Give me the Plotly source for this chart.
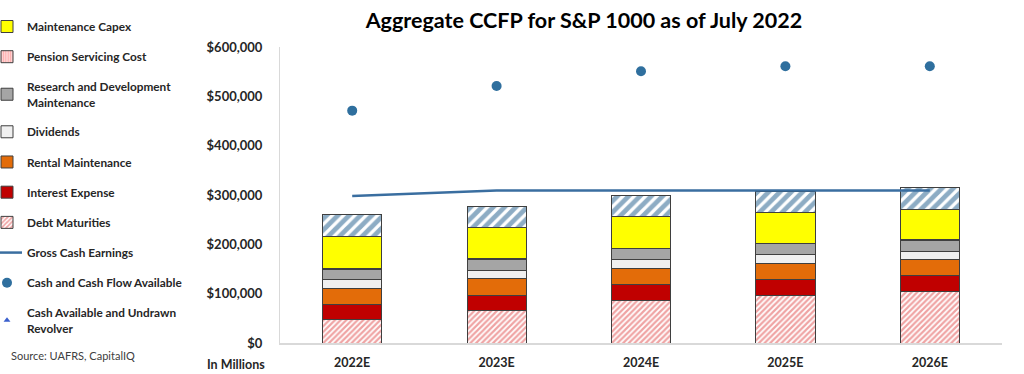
import plotly.graph_objects as go

years = ["2022E", "2023E", "2024E", "2025E", "2026E"]
debt_maturities = [47000, 65000, 87000, 97000, 104000]
interest_expense = [31000, 32000, 32000, 31000, 33000]
rental_maintenance = [33000, 33000, 32000, 33000, 32000]
dividends = [18000, 17000, 18000, 19000, 17000]
rnd_maintenance = [21000, 22000, 22000, 21000, 22000]
pension_cost = [1500, 1500, 1500, 1500, 1500]
maintenance_capex = [64000, 64000, 63000, 63000, 62000]
other_uses = [44000, 42000, 44000, 42000, 44000]
gross_cash_earnings = [298000, 309000, 309000, 309000, 309000]
cash_and_cash_flow = [471000, 521000, 551000, 561000, 561000]
cash_and_revolver = [None, None, None, None, None]
y_ticks = [0, 100000, 200000, 300000, 400000, 500000, 600000]
y_tick_labels = ["$0", "$100,000", "$200,000", "$300,000", "$400,000", "$500,000", "$600,000"]

OUTLINE = dict(color="#3F3F3F", width=1)
fig = go.Figure()

def add_bar(name, vals, rank, color, pattern=None, showlegend=True):
    marker = dict(color=color, line=OUTLINE)
    if pattern:
        marker["pattern"] = pattern
    fig.add_trace(go.Bar(
        name=name, x=years, y=vals, marker=marker, width=0.41,
        legendrank=rank, legendgroup=name, showlegend=showlegend,
    ))

add_bar("Debt Maturities", debt_maturities, 7, "white",
        dict(shape="/", fgcolor="#E04848", bgcolor="white", size=4, solidity=0.55))
add_bar("Interest Expense", interest_expense, 6, "#C00000")
add_bar("Rental Maintenance", rental_maintenance, 5, "#E36C09")
add_bar("Dividends", dividends, 4, "#F0F0F0")
add_bar("Research and Development<br>Maintenance", rnd_maintenance, 3, "#A5A5A5")
add_bar("Pension Servicing Cost", pension_cost, 2, "#FFB3B3",
        dict(shape="|", fgcolor="#FF8080", bgcolor="#FFD9D9", size=3, solidity=0.45))
add_bar("Maintenance Capex", maintenance_capex, 1, "#FFFF00")
add_bar("Other Uses", other_uses, 20, "white",
        dict(shape="/", fgcolor="#1B5A8A", bgcolor="white", size=8, solidity=0.6),
        showlegend=False)

fig.add_trace(go.Scatter(
    name="Gross Cash Earnings", x=years, y=gross_cash_earnings, mode="lines",
    line=dict(color="#3A6EA0", width=2.5), legendrank=8, legendgroup="gce",
))
fig.add_trace(go.Scatter(
    name="Cash and Cash Flow Available", x=years, y=cash_and_cash_flow, mode="markers",
    marker=dict(color="#2F6F9E", size=10), legendrank=9, legendgroup="ccf",
))
fig.add_trace(go.Scatter(
    name="Cash Available and Undrawn<br>Revolver", x=years, y=cash_and_revolver, mode="markers",
    marker=dict(color="#3A5FCD", size=6, symbol="triangle-up"), legendrank=10, legendgroup="car",
))

fig.update_layout(
    width=1024, height=374,
    margin=dict(l=280, r=22, t=47, b=31),
    barmode="stack",
    plot_bgcolor="white", paper_bgcolor="white",
    font=dict(family="Lato", color="#404040"),
    title=dict(text="<b>Aggregate CCFP for S&P 1000 as of July 2022</b>",
               font=dict(family="Lato", size=21.5, color="black"),
               x=0.421, xref="paper", xanchor="center", y=0.945, yanchor="middle"),
    legend=dict(xref="container", yref="container",
                x=0, xanchor="left", y=1 - 12 / 374, yanchor="top",
                traceorder="grouped", tracegroupgap=11.2, itemwidth=30,
                indentation=-13, maxheight=374,
                font=dict(family="Lato", size=11.8, color="#262626", weight="bold"),
                bgcolor="rgba(0,0,0,0)"),
    showlegend=True,
    xaxis=dict(showline=True, linecolor="#D9D9D9", linewidth=2, ticks="",
               tickfont=dict(size=12.5, weight="bold", color="#262626"),
               ticklabelstandoff=7, showgrid=False, automargin=False),
    yaxis=dict(range=[0, 600000], tickvals=y_ticks, ticktext=y_tick_labels,
               showline=True, linecolor="#D9D9D9", linewidth=1, ticks="",
               showgrid=False, zeroline=False, ticklabelstandoff=14, automargin=False,
               tickfont=dict(size=13, weight="bold", color="#262626")),
    annotations=[
        dict(text="<b>In Millions</b>", xref="paper", yref="paper",
             x=(267 - 280) / 722, y=-21 / 296, xanchor="right", yanchor="middle",
             showarrow=False, font=dict(size=12.5, color="#262626")),
        dict(text="Source: UAFRS, CapitalIQ", xref="paper", yref="paper",
             x=(9 - 280) / 722, y=-12 / 296, xanchor="left", yanchor="middle",
             showarrow=False, font=dict(size=11, color="#404040")),
    ],
)

fig.write_html("out.html", config={"displayModeBar": False},
               post_script="document.body.style.margin='0';")
